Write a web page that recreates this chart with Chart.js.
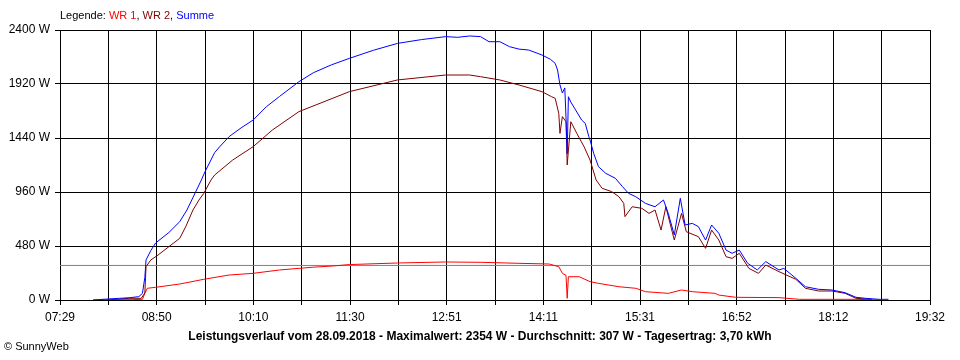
<!DOCTYPE html>
<html>
<head>
<meta charset="utf-8">
<script src="https://cdn.jsdelivr.net/npm/chart.js@4"></script>
<style>
  html, body { margin: 0; padding: 0; background: #fff; }
  #wrap { position: relative; width: 960px; height: 360px; font-family: "Liberation Sans", Arial, sans-serif; color: #000; }
  #chart { position: absolute; left: 0; top: 0; }
  .legend { position: absolute; left: 60px; top: 9px; font-size: 11px; white-space: nowrap; }
  .title { position: absolute; left: 0; width: 960px; top: 329px; text-align: center; font-size: 12px; font-weight: bold; white-space: nowrap; }
  .copy { position: absolute; left: 4px; top: 340px; font-size: 11px; white-space: nowrap; }
</style>
</head>
<body>
<div id="wrap">
  <canvas id="chart" width="960" height="360"></canvas>
  <div class="legend">Legende: <span style="color:#ff0000">WR 1</span>, <span style="color:#800000">WR 2</span>, <span style="color:#0000ff">Summe</span></div>
  <div class="title">Leistungsverlauf vom 28.09.2018 - Maximalwert: 2354 W - Durchschnitt: 307 W - Tagesertrag: 3,70 kWh</div>
  <div class="copy">&copy; SunnyWeb</div>
</div>
<script>
// x axis labels (every second grid line)
const tickLabels = ['07:29', '08:50', '10:10', '11:30', '12:51', '14:11', '15:31', '16:52', '18:12', '19:32'];

// Summe (blau)
const sumTimes = ['07:57', '08:08', '08:19', '08:27', '08:35', '08:38', '08:40', '08:41', '08:45', '08:49',
  '09:00', '09:09', '09:15', '09:21', '09:27', '09:30', '09:38', '09:42', '09:50', '10:00',
  '10:10', '10:21', '10:32', '10:48', '11:00', '11:15', '11:30', '11:50', '12:10', '12:30',
  '12:50', '13:00', '13:10', '13:19', '13:26', '13:35', '13:43', '13:51', '13:59', '14:10',
  '14:17', '14:21', '14:23', '14:25', '14:27', '14:29', '14:30', '14:31', '14:32', '14:34',
  '14:38', '14:43', '14:46', '14:49', '14:50', '14:53', '14:57', '15:03', '15:11', '15:17',
  '15:22', '15:28', '15:36', '15:44', '15:51', '15:55', '16:00', '16:05', '16:09', '16:15',
  '16:20', '16:26', '16:31', '16:37', '16:43', '16:48', '16:54', '17:01', '17:09', '17:16',
  '17:27', '17:31', '17:41', '17:49', '18:00', '18:11', '18:22', '18:31', '18:39', '18:50', '18:58'];
const sumWatts = [0, 8, 15, 20, 30, 59, 200, 356, 440, 507,
  600, 696, 800, 933, 1067, 1140, 1310, 1360, 1452, 1530,
  1600, 1718, 1810, 1940, 2020, 2090, 2148, 2220, 2281, 2315,
  2341, 2335, 2347, 2341, 2296, 2296, 2252, 2230, 2222, 2178,
  2140, 2104, 2044, 1911, 1840, 1885, 1627, 1300, 1807, 1760,
  1689, 1600, 1570, 1452, 1422, 1304, 1185, 1126, 1082, 1007,
  948, 918, 859, 829, 889, 770, 578, 904, 667, 681,
  652, 533, 667, 593, 444, 415, 444, 326, 267, 341,
  267, 281, 193, 118, 95, 89, 65, 24, 15, 6, 6];

// WR 1 (rot)
const wr1Times = ['07:57', '08:30', '08:38', '08:40', '08:42', '08:49', '09:09', '09:29', '09:50', '10:10',
  '10:32', '10:59', '11:16', '11:30', '12:10', '12:50', '13:20', '13:51', '14:16', '14:24',
  '14:27', '14:30', '14:31', '14:32', '14:41', '14:50', '14:57', '15:14', '15:28', '15:36',
  '15:55', '16:06', '16:15', '16:34', '16:37', '16:51', '17:27', '17:44', '18:31', '18:50'];
const wr1Watts = [0, 3, 6, 59, 104, 113, 142, 184, 222, 237,
  267, 291, 302, 315, 329, 338, 335, 326, 320, 296,
  237, 220, 15, 207, 207, 163, 148, 118, 104, 74,
  59, 89, 74, 59, 44, 24, 21, 6, 6, 0];

// WR 2 (dunkelrot)
const wr2Times = ['08:08', '08:27', '08:37', '08:40', '08:41', '08:45', '08:51', '09:00', '09:09', '09:14',
  '09:20', '09:25', '09:29', '09:35', '09:38', '09:53', '10:10', '10:26', '10:48', '11:30',
  '12:10', '12:50', '13:10', '13:19', '13:35', '13:51', '14:10', '14:18', '14:21', '14:24',
  '14:25', '14:27', '14:30', '14:31', '14:34', '14:39', '14:45', '14:50', '14:55', '15:00',
  '15:08', '15:14', '15:18', '15:19', '15:25', '15:33', '15:39', '15:44', '15:49', '15:53',
  '16:00', '16:06', '16:10', '16:20', '16:26', '16:31', '16:37', '16:43', '16:48', '16:54',
  '17:02', '17:10', '17:16', '17:27', '17:41', '17:49', '18:00', '18:11', '18:22', '18:31', '18:44'];
const wr2Watts = [0, 15, 15, 62, 296, 356, 400, 474, 548, 652,
  800, 889, 948, 1067, 1111, 1244, 1363, 1511, 1674, 1852,
  1956, 2000, 2000, 1985, 1956, 1911, 1852, 1807, 1793, 1659,
  1481, 1630, 1585, 1200, 1585, 1481, 1363, 1244, 1067, 993,
  963, 918, 859, 741, 829, 815, 770, 800, 622, 829,
  533, 770, 607, 563, 459, 622, 533, 385, 370, 415,
  281, 237, 311, 252, 184, 104, 80, 80, 59, 15, 6];

// Durchschnitt (graue Linie)
const averageW = 307;

const xMin = 7 * 60 + 29.5;
const xMax = 19 * 60 + 32.5;

function toMin(t) {
  const [h, m] = t.split(':').map(Number);
  return h * 60 + m;
}
function points(times, watts) {
  return times.map((t, i) => ({ x: toMin(t), y: watts[i] }));
}

Chart.defaults.font.family = '"Liberation Sans", Arial, sans-serif';
Chart.defaults.font.size = 12;
Chart.defaults.color = '#000';

const line = { borderWidth: 1, pointRadius: 0, tension: 0, fill: false };

new Chart(document.getElementById('chart'), {
  type: 'line',
  data: {
    datasets: [
      { ...line, label: 'Summe', data: points(sumTimes, sumWatts), borderColor: '#0000ff' },
      { ...line, label: 'WR 2', data: points(wr2Times, wr2Watts), borderColor: '#800000' },
      { ...line, label: 'WR 1', data: points(wr1Times, wr1Watts), borderColor: '#ff0000' },
      { ...line, label: 'Durchschnitt', data: [{ x: xMin, y: averageW }, { x: xMax, y: averageW }], borderColor: '#808080' }
    ]
  },
  options: {
    responsive: false,
    animation: false,
    layout: { padding: { left: 0, right: 30, top: 30, bottom: 0 } },
    plugins: { legend: { display: false }, tooltip: { enabled: false } },
    scales: {
      x: {
        type: 'linear',
        min: xMin,
        max: xMax,
        afterBuildTicks: s => {
          s.ticks = Array.from({ length: 19 }, (_, i) => ({ value: xMin + i * (xMax - xMin) / 18 }));
        },
        afterFit: s => { s.height = 60; },
        grid: { color: '#000', lineWidth: 1, tickLength: 5 },
        border: { color: '#000' },
        ticks: {
          autoSkip: false,
          maxRotation: 0,
          padding: 5,
          callback: (v, i) => (i % 2 === 0 ? tickLabels[i / 2] : '')
        }
      },
      y: {
        min: 0,
        max: 2400,
        afterFit: s => { s.width = 60; },
        grid: { color: '#000', lineWidth: 1, tickLength: 5 },
        border: { color: '#000' },
        ticks: { stepSize: 480, padding: 5, callback: v => v + ' W' }
      }
    }
  }
});
</script>
</body>
</html>
